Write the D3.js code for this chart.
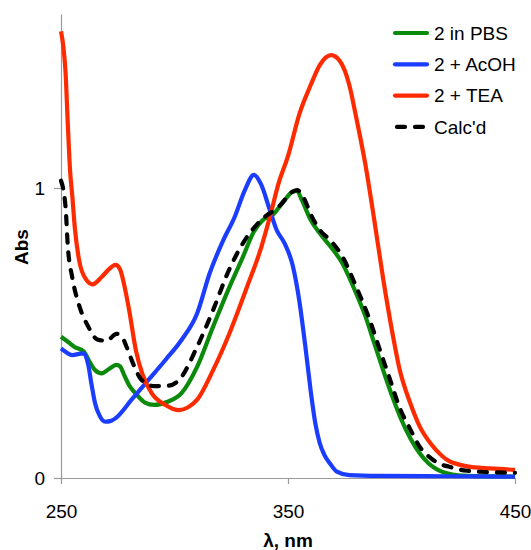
<!DOCTYPE html>
<html>
<head>
<meta charset="utf-8">
<script src="https://cdn.jsdelivr.net/npm/d3@7"></script>
<style>
  body { margin: 0; background: #fff; }
  text { font-family: Arial, "Liberation Sans", sans-serif; }
</style>
</head>
<body>
<div id="chart"></div>
<script>
var w = 531;
var h = 550;

// wavelength (nm) and absorbance
var pbsX = [250,253,256,260,263,265,268,271,274.5,276,278,280,283,287,291,297,303,310,317,324,330,335,339,343,348,352,354,356,360,364,368,374,380,384,388,392,396,400,404,408,412,416,420,425,435,450];
var pbsY = [0.487,0.47,0.452,0.436,0.395,0.372,0.361,0.375,0.39,0.385,0.352,0.32,0.29,0.26,0.252,0.263,0.292,0.384,0.522,0.655,0.76,0.85,0.89,0.905,0.953,0.987,0.99,0.96,0.89,0.844,0.805,0.74,0.637,0.56,0.465,0.37,0.28,0.2,0.135,0.085,0.05,0.028,0.016,0.009,0.006,0.005];

var acohX = [250,252,255,258,260,262,263.5,265,267,269.5,272,274,281,288.5,296,303,310,315.5,321.5,326.5,331,335,338,342,345,348.5,352,355,358,360,362,364,366,368.5,371.5,377,390,420,450];
var acohY = [0.447,0.435,0.424,0.428,0.43,0.39,0.32,0.258,0.215,0.194,0.197,0.206,0.269,0.338,0.407,0.475,0.568,0.706,0.82,0.9,0.993,1.045,1.015,0.924,0.855,0.809,0.735,0.61,0.43,0.3,0.19,0.12,0.08,0.05,0.022,0.01,0.007,0.006,0.005];

var teaX = [250,251,252,253,254,255,256,258,261,264,268,272,274,276,278,280,283,286,290,296,302,306,310,317,324,332,338,342,346,350,355,360,364,369,373,377,380,384,388,392,396,399,404,408,413,418,421,425,429,439,450];
var teaY = [1.54,1.49,1.40,1.22,1.06,0.97,0.87,0.75,0.685,0.668,0.694,0.726,0.735,0.72,0.66,0.58,0.44,0.355,0.292,0.252,0.234,0.244,0.27,0.372,0.495,0.66,0.79,0.9,1.02,1.11,1.255,1.355,1.424,1.458,1.436,1.355,1.245,1.085,0.89,0.683,0.5,0.38,0.255,0.178,0.117,0.075,0.058,0.047,0.04,0.033,0.028];

var calcX = [250,252,253,255,258,262,266,270,274.5,277,279,282,285.5,291,297,302,310,317,324,332,339,346,352,354,357,360,364,368.5,374,380,386,390.5,395,399,404,408,413,418,421,425,429,439,450];
var calcY = [1.025,0.935,0.8,0.69,0.595,0.522,0.478,0.473,0.497,0.485,0.45,0.39,0.338,0.317,0.318,0.338,0.453,0.579,0.717,0.832,0.895,0.936,0.987,0.993,0.965,0.91,0.855,0.821,0.763,0.66,0.545,0.441,0.338,0.246,0.166,0.108,0.068,0.045,0.039,0.03,0.025,0.02,0.018];

var seriesNames = ["2 in PBS", "2 + AcOH", "2 + TEA", "Calc'd"];
var seriesColors = ["#0b8a0b", "#1a3dff", "#ff2b00", "#000000"];
var xTicks = [250, 350, 450];
var yTicks = [0, 1];

var series = [
  {name: seriesNames[0], color: seriesColors[0], xs: pbsX, ys: pbsY, dash: null},
  {name: seriesNames[1], color: seriesColors[1], xs: acohX, ys: acohY, dash: null},
  {name: seriesNames[2], color: seriesColors[2], xs: teaX, ys: teaY, dash: null},
  {name: seriesNames[3], color: seriesColors[3], xs: calcX, ys: calcY, dash: "8,10"}
];

var svg = d3.select("#chart")
  .append("svg")
  .attr("width", w)
  .attr("height", h);

var x = d3.scaleLinear().domain([250, 450]).range([61, 515]);
var y = d3.scaleLinear().domain([0, 1.6]).range([478, 14]);

// axes
var xAxis = svg.append("g")
  .attr("transform", "translate(0," + y(0) + ")")
  .call(d3.axisBottom(x).tickValues(xTicks).tickSize(6).tickSizeOuter(0).tickFormat(d3.format("d")));
xAxis.selectAll("text")
  .attr("y", 40).attr("dy", 0)
  .style("font-size", "19px").attr("fill", "#000");

var yAxis = svg.append("g")
  .attr("transform", "translate(" + x(250) + ",0)")
  .call(d3.axisLeft(y).tickValues(yTicks).tickSize(7).tickSizeOuter(0).tickFormat(d3.format("d")));
yAxis.selectAll("text")
  .attr("x", -16).attr("dy", "0.35em")
  .style("font-size", "19px").attr("fill", "#000");

svg.selectAll(".domain, .tick line").attr("stroke", "#9a9a9a").attr("stroke-width", 1.2);

// curves
var line = d3.line()
  .x(function(d) { return x(d[0]); })
  .y(function(d) { return y(d[1]); })
  .curve(d3.curveMonotoneX);

svg.selectAll("path.curve")
  .data(series)
  .enter()
  .append("path")
  .attr("class", "curve")
  .attr("fill", "none")
  .attr("stroke", function(d) { return d.color; })
  .attr("stroke-width", 4.2)
  .attr("stroke-linecap", function(d) { return d.dash ? "round" : "butt"; })
  .attr("stroke-linejoin", "round")
  .attr("stroke-dasharray", function(d) { return d.dash; })
  .attr("d", function(d) {
    return line(d.xs.map(function(v, i) { return [v, d.ys[i]]; }));
  });

// legend
var legend = svg.selectAll("g.legend")
  .data(series)
  .enter()
  .append("g")
  .attr("class", "legend")
  .attr("transform", function(d, i) { return "translate(0," + (33 + i * 31.3) + ")"; });

legend.append("line")
  .attr("x1", function(d) { return d.dash ? 397 : 395; })
  .attr("x2", function(d) { return d.dash ? 425 : 427; })
  .attr("y1", 0).attr("y2", 0)
  .attr("stroke", function(d) { return d.color; })
  .attr("stroke-width", 4.2)
  .attr("stroke-linecap", "round")
  .attr("stroke-dasharray", function(d) { return d.dash; });

legend.append("text")
  .attr("x", 434)
  .attr("dy", "0.36em")
  .style("font-size", "19px")
  .attr("fill", "#000")
  .text(function(d) { return d.name; });

// axis titles
svg.append("text")
  .attr("x", x(350))
  .attr("y", 547)
  .attr("text-anchor", "middle")
  .style("font-size", "19px")
  .style("font-weight", "bold")
  .text("λ, nm");

svg.append("text")
  .attr("transform", "translate(28,247) rotate(-90)")
  .attr("text-anchor", "middle")
  .style("font-size", "19px")
  .style("font-weight", "bold")
  .text("Abs");
</script>
</body>
</html>
